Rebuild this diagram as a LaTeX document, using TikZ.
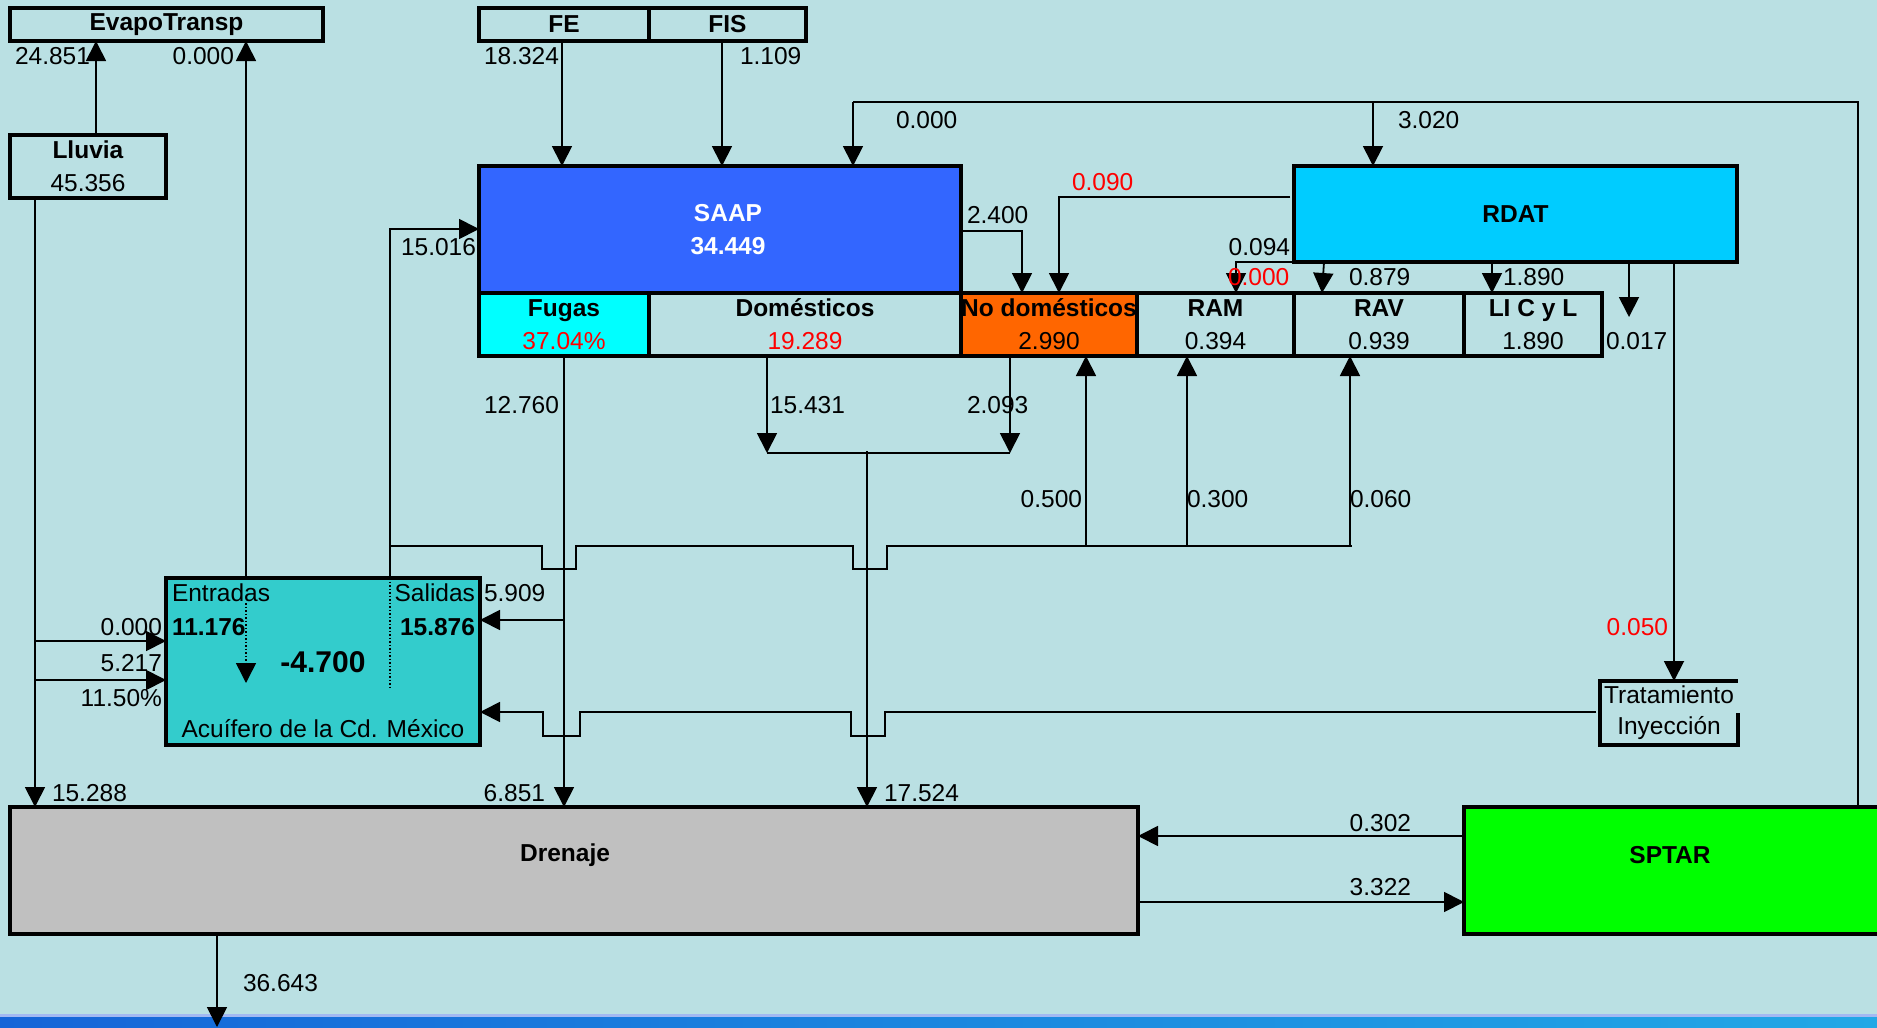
\documentclass[tikz,border=0pt]{standalone}
\usepackage{fontspec}
\setmainfont{Liberation Sans}
\usetikzlibrary{arrows.meta}
\definecolor{bgc}{HTML}{BAE0E3}
\definecolor{saapc}{HTML}{3366FF}
\definecolor{fugc}{HTML}{00FFFF}
\definecolor{nodc}{HTML}{FF6600}
\definecolor{rdatc}{HTML}{00CCFF}
\definecolor{acuc}{HTML}{33CCCC}
\definecolor{drenc}{HTML}{C0C0C0}
\definecolor{sptc}{HTML}{00FF00}
\definecolor{redc}{HTML}{FF0000}
\definecolor{barl}{HTML}{1565D8}
\definecolor{barr}{HTML}{22A8E6}
\definecolor{bartop}{HTML}{A3B9F2}
\begin{document}
\begin{tikzpicture}[x=1pt,y=-1pt,
  every node/.style={inner sep=0pt, outer sep=0pt, font=\fontsize{24.5}{33}\selectfont},
  box/.style={draw, line width=3.5pt, align=center, anchor=north west},
  ln/.style={line width=1.8pt},
  flow/.style={line width=1.8pt, -{Triangle[length=20pt,width=20pt]}},
  lbl/.style={font=\fontsize{24.5}{28}\selectfont},
  rlbl/.style={lbl, text=redc}]
\useasboundingbox (0,0) rectangle (1877,1028);
\fill[bgc] (0,0) rectangle (1877,1028);
\clip (0,0) rectangle (1877,1028);
% bottom strip
\shade[left color=barl, right color=barr] (0,1015) rectangle (1877,1028);
\fill[bartop] (0,1014) rectangle (1877,1016.5);

% ---------- boxes ----------
\node[box, minimum width=313pt, minimum height=33pt] (evapo) at (10,8) {\textbf{EvapoTransp}};
\node[box, minimum width=170pt, minimum height=33pt] (fe) at (479,8) {\textbf{FE}};
\node[box, minimum width=157pt, minimum height=33pt] (fis) at (649,8) {\textbf{FIS}};
\node[box, minimum width=156pt, minimum height=63pt] (lluvia) at (10,135) {\textbf{Lluvia}\\45.356};
\node[box, fill=saapc, minimum width=482pt, minimum height=127pt] (saap) at (479,166) {};
\node[text=white, align=center] (saapt) at (728,230) {\textbf{SAAP}\\\textbf{34.449}};
\node[box, fill=fugc, minimum width=170pt, minimum height=63pt] (fugas) at (479,293) {\textbf{Fugas}\\\textcolor{redc}{37.04\%}};
\node[box, minimum width=312pt, minimum height=63pt] (dom) at (649,293) {\textbf{Domésticos}\\\textcolor{redc}{19.289}};
\node[box, fill=nodc, minimum width=176pt, minimum height=63pt] (nodom) at (961,293) {\textbf{No domésticos}\\2.990};
\node[box, minimum width=157pt, minimum height=63pt] (ram) at (1137,293) {\textbf{RAM}\\0.394};
\node[box, minimum width=170pt, minimum height=63pt] (rav) at (1294,293) {\textbf{RAV}\\0.939};
\node[box, minimum width=138pt, minimum height=63pt] (lic) at (1464,293) {\textbf{LI C y L}\\1.890};
\node[box, fill=rdatc, minimum width=443pt, minimum height=96pt] (rdat) at (1294,166) {\textbf{RDAT}};
\node[box, fill=acuc, minimum width=314pt, minimum height=167pt] (acu) at (166,578) {};
\node[anchor=north west, minimum width=138pt, minimum height=64pt, align=center, font=\fontsize{24.5}{31}\selectfont] (trat) at (1600,681) {Tratamiento\\Inyección};
\draw[line width=3.5pt] (trat.east |- 0,713) -- (trat.south east) -- (trat.south west) -- (trat.north west) -- (trat.north east);
\node[box, fill=drenc, minimum width=1128pt, minimum height=127pt] (drenaje) at (10,807) {};
\node (drent) at (565,855) {\textbf{Drenaje}};
\node[box, fill=sptc, minimum width=416pt, minimum height=127pt] (sptar) at (1464,807) {};
\node (sptart) at (1670,855) {\textbf{SPTAR}};

% aquifer contents
\node[anchor=west] (entr) at (172,593) {Entradas};
\node[anchor=east] (sal) at (475,593) {Salidas};
\node[anchor=west] (ein) at (172,627) {\textbf{11.176}};
\node[anchor=east] (eout) at (475,627) {\textbf{15.876}};
\node[font=\fontsize{30}{34}\selectfont] (bal) at (323,662) {\textbf{-4.700}};
\node (acuname) at (323,729) {Acuífero de la Cd. México};
\coordinate (dotA) at (246,683);
\coordinate (dotB) at (390,690);
\draw[line width=1.5pt, dotted, -{Triangle[length=20pt,width=20pt]}] (246,603) -- (dotA);
\draw[line width=1.5pt, dotted] (acu.north -| dotB) -- (dotB);

% ---------- connectors ----------
\draw[flow] (96,0 |- lluvia.north) -- (96,0 |- evapo.south);
\draw[flow] (246,0 |- acu.north) -- (246,0 |- evapo.south);
\draw[flow] (562,0 |- fe.south) -- (562,0 |- saap.north);
\draw[flow] (722,0 |- fis.south) -- (722,0 |- saap.north);
% top return line from SPTAR
\coordinate (topR) at (1858,102);
\coordinate (topL) at (853,102);
\coordinate (topM) at (1373,102);
\draw[ln] (sptar.north -| topR) -- (topR) -- (topL);
\draw[flow] (topL) -- (topL |- saap.north);
\draw[flow] (topM) -- (topM |- rdat.north);
% 15.016
\coordinate (c15) at (390,229);
\draw[flow] (acu.north -| c15) -- (c15) -- (saap.west |- c15);
% 2.400
\coordinate (c24) at (1022,231);
\draw[flow] (saap.east |- c24) -- (c24) -- (c24 |- nodom.north);
% 0.090
\coordinate (c09) at (1059,197);
\draw[flow] (1290,197) -- (c09) -- (c09 |- nodom.north);
% 0.094
\coordinate (c094) at (1236,262);
\draw[flow] (rdat.south west) -- (c094) -- (c094 |- ram.north);
% 0.879
\draw[flow] (1324,0 |- rdat.south) -- (1322,0 |- rav.north);
% 1.890
\draw[flow] (1492,0 |- rdat.south) -- (1492,0 |- lic.north);
% 0.017
\coordinate (c017) at (1629,317);
\draw[flow] (c017 |- rdat.south) -- (c017);
% 0.050
\draw[flow] (1674,0 |- rdat.south) -- (1674,0 |- trat.north);
% Fugas to drenaje
\draw[flow] (564,0 |- fugas.south) -- (564,0 |- drenaje.north);
% 5.909
\draw[flow] (564,620) -- (acu.east |- 0,620);
% Domesticos / no domesticos to drenaje
\coordinate (d1) at (767,453);
\coordinate (d2) at (1010,453);
\draw[flow] (d1 |- dom.south) -- (d1);
\draw[flow] (d2 |- nodom.south) -- (d2);
\draw[ln] (d1) -- (d2);
\draw[flow] (867,451) -- (867,0 |- drenaje.north);
% upper distribution line (from aquifer)
\draw[ln] (390,546) -- (542,546) -- (542,569) -- (576,569) -- (576,546) -- (853,546) -- (853,569) -- (887,569) -- (887,546) -- (1352,546);
\draw[flow] (1086,546) -- (1086,0 |- nodom.south);
\draw[flow] (1187,546) -- (1187,0 |- ram.south);
\draw[flow] (1350,546) -- (1350,0 |- rav.south);
% lower line from Tratamiento to aquifer
\draw[flow, shorten <=4pt] (trat.west |- 0,712) -- (885,712) -- (885,736) -- (851,736) -- (851,712) -- (580,712) -- (580,736) -- (543,736) -- (543,712) -- (acu.east |- 0,712);
% Lluvia line
\draw[flow] (35,0 |- lluvia.south) -- (35,0 |- drenaje.north);
\draw[flow] (35,641) -- (acu.west |- 0,641);
\draw[flow] (35,680) -- (acu.west |- 0,680);
% SPTAR <-> Drenaje
\draw[flow] (sptar.west |- 0,836) -- (drenaje.east |- 0,836);
\draw[flow] (drenaje.east |- 0,902) -- (sptar.west |- 0,902);
% Drenaje out
\coordinate (outD) at (217,1027);
\draw[flow] (outD |- drenaje.south) -- (outD);

% ---------- labels ----------
\node[lbl, anchor=east] (l1) at (90,56) {24.851};
\node[lbl, anchor=east] (l2) at (234,56) {0.000};
\node[lbl, anchor=east] (l3) at (559,56) {18.324};
\node[lbl, anchor=west] (l4) at (740,56) {1.109};
\node[lbl, anchor=west] (l5) at (896,120) {0.000};
\node[lbl, anchor=west] (l6) at (1398,120) {3.020};
\node[lbl, anchor=east] (l7) at (476,247) {15.016};
\node[lbl, anchor=west] (l8) at (967,215) {2.400};
\node[rlbl, anchor=west] (l9) at (1072,182) {0.090};
\node[lbl, anchor=east] (l10) at (1290,247) {0.094};
\node[rlbl, anchor=west] (l11) at (1228,277) {0.000};
\node[lbl, anchor=west] (l12) at (1349,277) {0.879};
\node[lbl, anchor=west] (l13) at (1503,277) {1.890};
\node[lbl, anchor=west] (l14) at (1606,341) {0.017};
\node[lbl, anchor=east] (l15) at (559,405) {12.760};
\node[lbl, anchor=west] (l16) at (770,405) {15.431};
\node[lbl, anchor=west] (l17) at (967,405) {2.093};
\node[lbl, anchor=east] (l18) at (1082,499) {0.500};
\node[lbl, anchor=west] (l19) at (1187,499) {0.300};
\node[lbl, anchor=west] (l20) at (1350,499) {0.060};
\node[lbl, anchor=west] (l21) at (484,593) {5.909};
\node[lbl, anchor=east] (l22) at (162,627) {0.000};
\node[lbl, anchor=east] (l23) at (162,663) {5.217};
\node[lbl, anchor=east] (l24) at (162,698) {11.50\%};
\node[rlbl, anchor=east] (l25) at (1668,627) {0.050};
\node[lbl, anchor=west] (l26) at (52,793) {15.288};
\node[lbl, anchor=east] (l27) at (545,793) {6.851};
\node[lbl, anchor=west] (l28) at (884,793) {17.524};
\node[lbl, anchor=east] (l29) at (1411,823) {0.302};
\node[lbl, anchor=east] (l30) at (1411,887) {3.322};
\node[lbl, anchor=west] (l31) at (243,983) {36.643};
\end{tikzpicture}
\end{document}
